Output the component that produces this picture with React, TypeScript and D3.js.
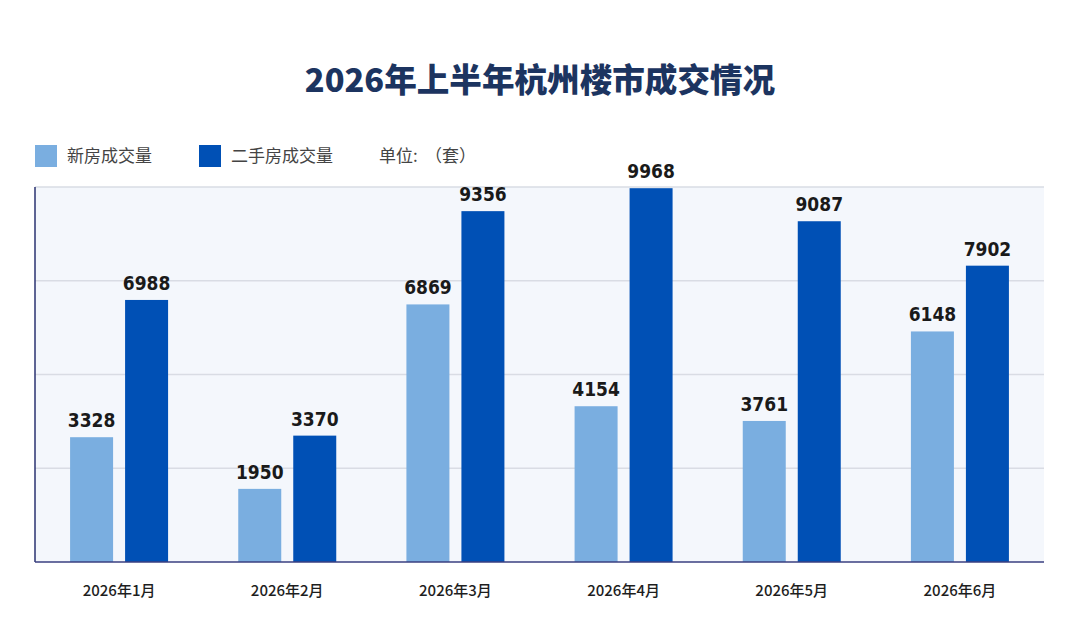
import * as React from "react";
import * as d3 from "d3";

const months = ["2026年1月", "2026年2月", "2026年3月", "2026年4月", "2026年5月", "2026年6月"];
const newHomes = [3328, 1950, 6869, 4154, 3761, 6148];
const resale = [6988, 3370, 9356, 9968, 9087, 7902];
const seriesNames = ["新房成交量", "二手房成交量"];
const yTicks = [0, 2500, 5000, 7500, 10000];

const width = 1080;
const height = 629;
const marginLeft = 35;
const marginRight = 36;
const marginTop = 187;
const marginBottom = 67;

const colors = ["#7aaee0", "#0050b5"];
const numFont = "'DejaVu Sans Condensed', 'DejaVu Sans', sans-serif";
const cjkFont = "'Noto Sans CJK SC', 'Noto Sans', sans-serif";

const App: React.FC = () => {
  React.useEffect(() => {
    document.body.style.margin = "0";
  }, []);

  const x = d3
    .scaleBand<string>()
    .domain(months)
    .range([marginLeft, width - marginRight]);

  const y = d3
    .scaleLinear()
    .domain([0, 10000])
    .range([height - marginBottom, marginTop]);

  const barW = 43;
  const offset = 27.5;

  const series = [newHomes, resale];

  return (
    <svg width={width} height={height} style={{ display: "block", background: "#fff" }}>
      {/* title */}
      <text
        x={width / 2}
        y={92}
        textAnchor="middle"
        fontFamily={cjkFont}
        fontWeight={900}
        fontSize={32.6}
        fill="#1c3460"
      >
        2026年上半年杭州楼市成交情况
      </text>

      {/* legend */}
      <g fontFamily={cjkFont} fontSize={17} fill="#444">
        <rect x={35} y={145} width={22} height={22} fill={colors[0]} />
        <text x={67} y={162}>{seriesNames[0]}</text>
        <rect x={199} y={145} width={22} height={22} fill={colors[1]} />
        <text x={231} y={162}>{seriesNames[1]}</text>
        <text x={379} y={162}>单位:</text>
        <text x={425} y={162}>（套）</text>
      </g>

      {/* plot background */}
      <rect
        x={marginLeft}
        y={marginTop}
        width={width - marginLeft - marginRight}
        height={height - marginTop - marginBottom}
        fill="#f4f7fc"
      />

      {/* grid */}
      {yTicks.slice(1).map((t) => (
        <line
          key={t}
          x1={marginLeft}
          x2={width - marginRight}
          y1={y(t)}
          y2={y(t)}
          stroke="#d9dce4"
          strokeWidth={1.5}
        />
      ))}

      {/* bars */}
      {series.map((vals, si) =>
        vals.map((v, i) => {
          const cx = (x(months[i]) as number) + x.bandwidth() / 2 + (si === 0 ? -offset : offset);
          return (
            <g key={`${si}-${i}`}>
              <rect
                x={cx - barW / 2}
                y={y(v)}
                width={barW}
                height={y(0) - y(v)}
                fill={colors[si]}
              />
              <text
                x={cx}
                y={y(v) - 10}
                textAnchor="middle"
                fontFamily={numFont}
                fontWeight={700}
                fontSize={19}
                fill="#1a1a1a"
              >
                {v}
              </text>
            </g>
          );
        })
      )}

      {/* axes */}
      <line
        x1={marginLeft}
        x2={marginLeft}
        y1={marginTop}
        y2={y(0)}
        stroke="#2a3270"
        strokeWidth={1.5}
      />
      <line
        x1={marginLeft}
        x2={width - marginRight}
        y1={y(0)}
        y2={y(0)}
        stroke="#3a3f80"
        strokeWidth={1.5}
      />

      {/* x labels */}
      {months.map((m) => (
        <text
          key={m}
          x={(x(m) as number) + x.bandwidth() / 2}
          y={596}
          textAnchor="middle"
          fontFamily={cjkFont}
          fontWeight={500}
          fontSize={15}
          fill="#1e1e1e"
        >
          {m}
        </text>
      ))}
    </svg>
  );
};

export default App;
